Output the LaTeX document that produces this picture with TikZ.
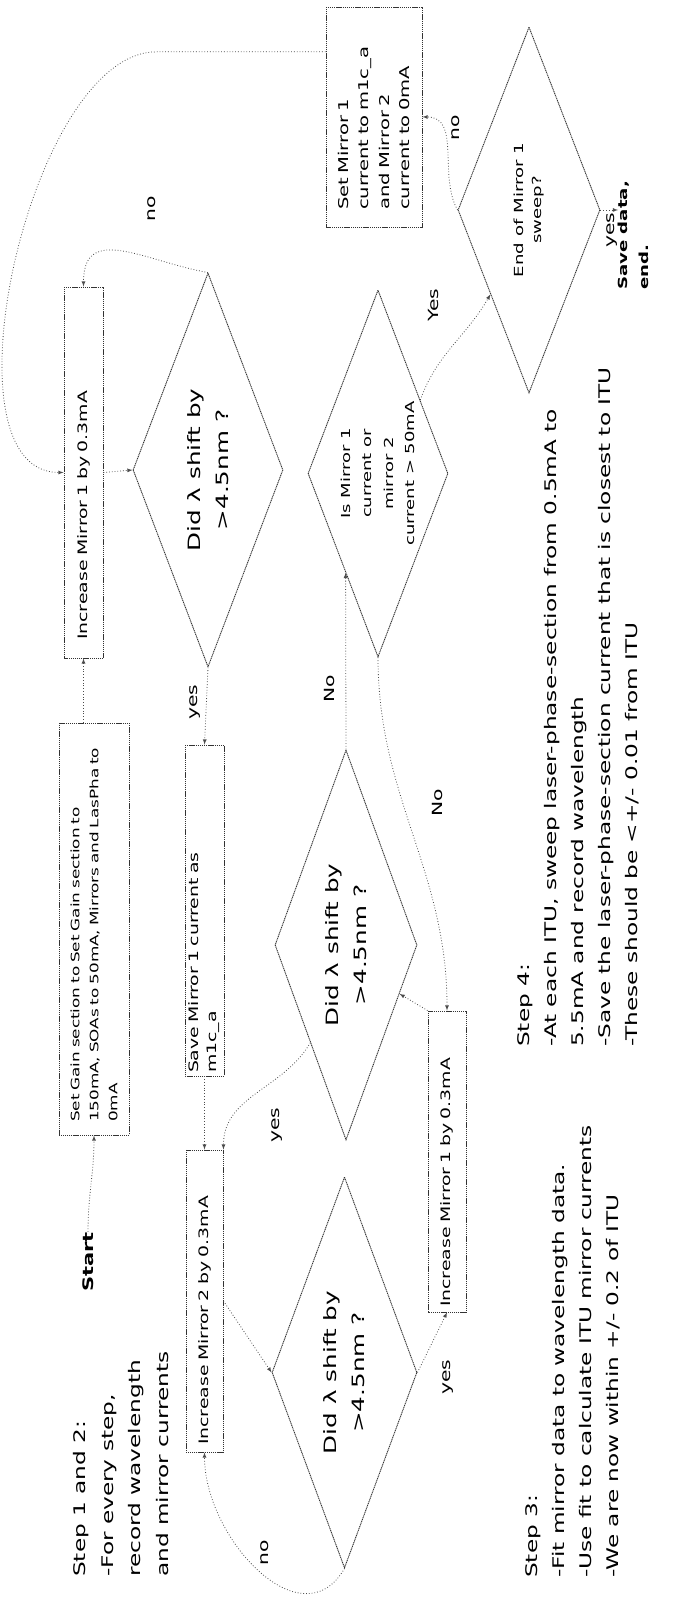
\documentclass[tikz,border=0pt]{standalone}
\usepackage{fontspec}
\setmainfont{DejaVu Sans}[FakeStretch=1.45]
\usetikzlibrary{shapes.geometric,calc}

\begin{document}
\begin{tikzpicture}[x=1pt, y=1pt,
    stepbox/.style={draw=black!80, dash pattern=on 1.2pt off 0.7pt, line width=0.9pt, align=left, inner ysep=1pt},
    decision/.style={diamond, draw=black!80, dash pattern=on 1.2pt off 0.7pt, line width=0.9pt, align=center, inner sep=0pt, aspect=2.6},
    link/.style={draw=black!70, dotted, line width=0.8pt, -latex},
    tag/.style={inner sep=0pt, font=\fontsize{14}{16}\selectfont},
    note/.style={anchor=north west, align=left, inner sep=0pt, font=\fontsize{16}{27.5}\selectfont}]

  \useasboundingbox (0,0) rectangle (679,1602);

  \begin{scope}[rotate=90, transform shape]
    % boxes
    \node[stepbox, minimum width=412, minimum height=70, text width=386, inner xsep=13, font=\fontsize{11.6}{19}\selectfont] (setgain) at (673,-94)
      {Set Gain section to Set Gain section to\\150mA, SOAs to 50mA, Mirrors and LasPha to\\0mA};
    \node[stepbox, minimum width=331, minimum height=39, text width=325, inner xsep=3, font=\fontsize{13}{18}\selectfont] (savem1) at (691.5,-204.5)
      {Save Mirror 1 current as\\m1c\_a};
    \node[stepbox, minimum width=371, minimum height=39, text width=335, inner xsep=18, font=\fontsize{13}{18}\selectfont] (incm1top) at (1129.5,-83.5)
      {Increase Mirror 1 by 0.3mA};
    \node[stepbox, minimum width=302, minimum height=37, text width=288, inner xsep=7, font=\fontsize{13}{18}\selectfont] (incm2) at (301,-204.5)
      {Increase Mirror 2 by 0.3mA};
    \node[stepbox, minimum width=301, minimum height=38, text width=291, inner xsep=5, font=\fontsize{13}{18}\selectfont] (incm1low) at (440.5,-447)
      {Increase Mirror 1 by 0.3mA};
    \node[stepbox, minimum width=220, minimum height=96, text width=186, inner xsep=17, font=\fontsize{13.5}{20.5}\selectfont] (setm1) at (1485,-374)
      {Set Mirror 1\\current to m1c\_a\\and Mirror 2\\current to 0mA};

    % decisions
    \node[decision, minimum width=394, minimum height=150, font=\fontsize{17}{28}\selectfont] (dtop) at (1132,-208) {Did λ shift by\\>4.5nm ?};
    \node[decision, minimum width=390, minimum height=142, font=\fontsize{17}{28}\selectfont] (dmid) at (657,-346) {Did λ shift by\\>4.5nm ?};
    \node[decision, minimum width=391, minimum height=145, font=\fontsize{17}{28}\selectfont] (dlow) at (229.5,-344.5) {Did λ shift by\\>4.5nm ?};
    \node[decision, minimum width=367, minimum height=140, font=\fontsize{12.4}{21.5}\selectfont] (dis) at (1128.5,-378) {Is Mirror 1\\current or\\mirror 2\\current > 50mA};
    \node[decision, minimum width=366, minimum height=142, font=\fontsize{12.5}{18}\selectfont] (dend) at (1392,-529) {End of Mirror 1\\sweep?};

    % texts
    \node[inner sep=0pt, font=\bfseries\fontsize{14.5}{17}\selectfont] (start) at (340,-88) {Start};
    \node[anchor=north west, align=left, inner sep=0pt, font=\bfseries\fontsize{12.5}{21}\selectfont] (savedata) at (1312,-618) {Save data,\\end.};
    \node[note] (step12) at (25,-73.5) {Step 1 and 2:\\-For every step,\\record wavelength\\and mirror currents};
    \node[note, font=\fontsize{16}{27}\selectfont] (step3) at (24,-525.5) {Step 3:\\-Fit mirror data to wavelength data.\\-Use fit to calculate ITU mirror currents\\-We are now within +/- 0.2 of ITU};
    \node[note, font=\fontsize{16}{27}\selectfont] (step4) at (555,-517.5) {Step 4:\\-At each ITU, sweep laser-phase-section from 0.5mA to\\5.5mA and record wavelength\\-Save the laser-phase-section current that is closest to ITU\\-These should be <+/- 0.01 from ITU};

    % labels
    \node[tag] (notop) at (1393,-152) {no};
    \node[tag] (yestop) at (900,-195) {yes};
    \node[tag] (yesmid) at (477,-277) {yes};
    \node[tag] (nolow) at (49,-265) {no};
    \node[tag] (yeslow) at (225,-448) {yes};
    \node[tag] (nomid) at (913,-329) {No};
    \node[tag] (nois) at (799,-437) {No};
    \node[tag] (yesis) at (1297,-433) {Yes};
    \node[tag] (noend) at (1474,-456) {no};
    \node[tag] (yesend) at (1372,-612) {yes};

    \coordinate (m1out) at ($(setm1.north west)!0.795!(setm1.north east)$);

    % connectors
    \draw[link] (start.east) to[out=0,in=180] (setgain.west);
    \draw[link] (setgain.east |- incm1top.west) -- (incm1top.west);
    \draw[link] (incm1top.south) -- (dtop.north);
    \draw[link] (dtop.east) to[out=80,in=0,looseness=1.3] (incm1top.east);
    \draw[link] (dtop.west) -- (savem1.east);
    \draw[link] (savem1.west) -- (incm2.east);
    \draw[link] (dmid.north west) to[out=150,in=0] (incm2.south east);
    \draw[link] (incm2.south) -- (dlow.north);
    \draw[link] (dlow.west) to[out=150,in=180,looseness=1.2] (incm2.west);
    \draw[link] (dlow.south) -- (incm1low.west);
    \draw[link] (incm1low.north east) -- ($(dmid.south)!0.25!(dmid.west)$);
    \draw[link] (dmid.east) -- ($(dis.west)!0.46!(dis.north)$);
    \draw[link] (dis.west) to[out=180,in=0] (incm1low.east);
    \draw[link] ($(dis.south)!0.4!(dis.east)$) to[out=-20,in=150] ($(dend.west)!0.54!(dend.north)$);
    \draw[link] (dend.north) to[out=30,in=-90] (setm1.south);
    \draw[link] (dend.south) -- (dend.south |- savedata.north);
    \draw[link] (m1out) -- ++(0,169) to[out=90,in=90,looseness=0.75] (incm1top.north);
  \end{scope}
\end{tikzpicture}
\end{document}
